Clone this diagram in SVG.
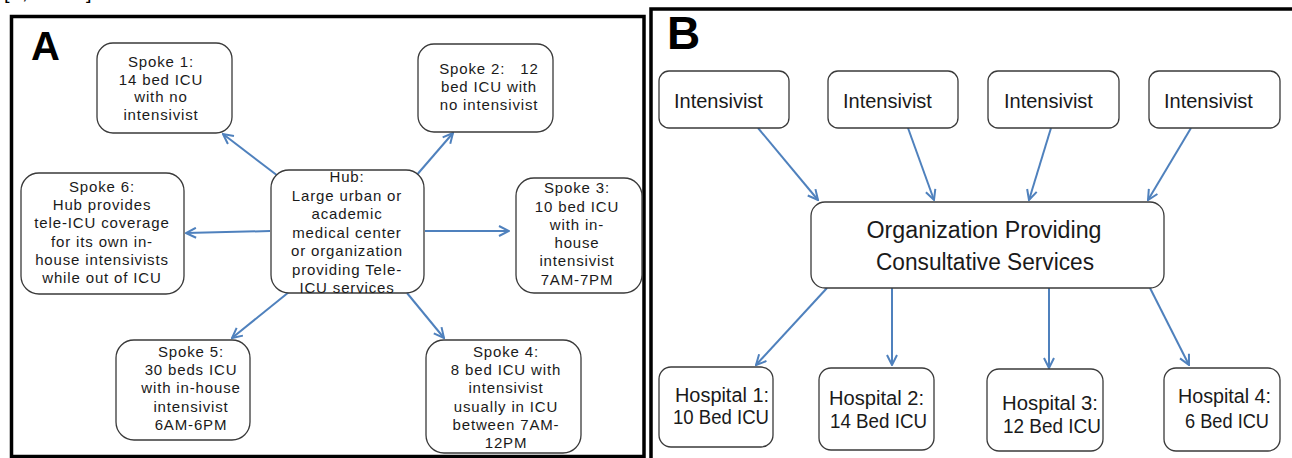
<svg xmlns="http://www.w3.org/2000/svg" width="1292" height="458" viewBox="0 0 1292 458">
<style>
.bx{fill:#fff;stroke:#3a3a3a;stroke-width:1.3}
.ta{font-family:"Liberation Sans",Arial,sans-serif;font-size:15px;letter-spacing:0.85px;fill:#1a1a1a;text-anchor:middle}
.tb{font-family:"Liberation Sans",Arial,sans-serif;font-size:20px;fill:#1a1a1a}
.th{font-family:"Liberation Sans",Arial,sans-serif;font-size:19.5px;fill:#1a1a1a}
.tc{font-family:"Liberation Sans",Arial,sans-serif;font-size:23.5px;fill:#1a1a1a;text-anchor:middle}
.lbl{font-family:"Liberation Sans",Arial,sans-serif;font-weight:bold;fill:#000}
.cn{fill:none;stroke:#4F81BD;stroke-width:2;marker-end:url(#ah)}
.frame{fill:none;stroke:#000;stroke-width:3.5}
</style>
<defs>
<marker id="ah" viewBox="0 0 12 12" refX="11" refY="6" markerWidth="12" markerHeight="12" orient="auto" markerUnits="userSpaceOnUse">
<path d="M1,1 L11,6 L1,11" fill="none" stroke="#4F81BD" stroke-width="2"/>
</marker>
</defs>
<rect width="1292" height="458" fill="#fff"/>
<g id="cite" font-family="Liberation Sans, Arial, sans-serif" font-size="20" fill="#000">
<text x="4" y="-1">[</text><text x="22" y="-1">,</text><text x="86" y="-1">]</text>
</g>
<g id="panelA-frame"><rect class="frame" x="11.5" y="16.5" width="632.5" height="440"/></g>
<g id="panelB-frame"><path class="frame" d="M651,458 V9 H1292"/></g>
<text class="lbl" x="31" y="60" font-size="40">A</text>
<text class="lbl" x="667" y="49" font-size="46">B</text>

<g id="connectors">
<line class="cn" x1="278" y1="176" x2="223" y2="134"/>
<line class="cn" x1="415" y1="177" x2="453" y2="133"/>
<line class="cn" x1="270" y1="231" x2="186" y2="233"/>
<line class="cn" x1="425" y1="231" x2="509" y2="231"/>
<line class="cn" x1="289" y1="292" x2="232" y2="338"/>
<line class="cn" x1="407" y1="293" x2="444" y2="338"/>
<line class="cn" x1="758" y1="128" x2="818" y2="200"/>
<line class="cn" x1="908" y1="128" x2="934" y2="200"/>
<line class="cn" x1="1051" y1="128" x2="1029" y2="200"/>
<line class="cn" x1="1191" y1="128" x2="1148" y2="200"/>
<line class="cn" x1="827" y1="288" x2="756" y2="365"/>
<line class="cn" x1="892" y1="288" x2="892" y2="365"/>
<line class="cn" x1="1049" y1="288" x2="1049" y2="368"/>
<line class="cn" x1="1150" y1="288" x2="1189" y2="365"/>
</g>

<g id="spoke1">
<rect class="bx" x="97" y="43" width="135" height="90" rx="16"/>
<text class="ta" x="161" y="67">Spoke 1:</text>
<text class="ta" x="161" y="85">14 bed ICU</text>
<text class="ta" x="161" y="102">with no</text>
<text class="ta" x="161" y="120">intensivist</text>
</g>
<g id="spoke2">
<rect class="bx" x="418" y="44" width="135" height="88" rx="16"/>
<text class="ta" x="489" y="74" xml:space="preserve">Spoke 2:   12</text>
<text class="ta" x="489" y="92">bed ICU with</text>
<text class="ta" x="489" y="110">no intensivist</text>
</g>
<g id="hub">
<rect class="bx" x="271" y="170" width="153" height="123" rx="18"/>
<text class="ta" x="347" y="182">Hub:</text>
<text class="ta" x="347" y="201">Large urban or</text>
<text class="ta" x="347" y="219">academic</text>
<text class="ta" x="347" y="238">medical center</text>
<text class="ta" x="347" y="256">or organization</text>
<text class="ta" x="347" y="275">providing Tele-</text>
<text class="ta" x="347" y="293">ICU services</text>
</g>
<g id="spoke3">
<rect class="bx" x="516" y="178" width="126" height="115" rx="18"/>
<text class="ta" x="577" y="193">Spoke 3:</text>
<text class="ta" x="577" y="212">10 bed ICU</text>
<text class="ta" x="577" y="230">with in-</text>
<text class="ta" x="577" y="248">house</text>
<text class="ta" x="577" y="266">intensivist</text>
<text class="ta" x="577" y="285">7AM-7PM</text>
</g>
<g id="spoke6">
<rect class="bx" x="21" y="173" width="163" height="121" rx="18"/>
<text class="ta" x="102" y="192">Spoke 6:</text>
<text class="ta" x="102" y="210">Hub provides</text>
<text class="ta" x="102" y="228">tele-ICU coverage</text>
<text class="ta" x="102" y="247">for its own in-</text>
<text class="ta" x="102" y="265">house intensivists</text>
<text class="ta" x="102" y="283">while out of ICU</text>
</g>
<g id="spoke5">
<rect class="bx" x="116" y="340" width="134" height="100" rx="18"/>
<text class="ta" x="191" y="357">Spoke 5:</text>
<text class="ta" x="191" y="375">30 beds ICU</text>
<text class="ta" x="191" y="393">with in-house</text>
<text class="ta" x="191" y="412">intensivist</text>
<text class="ta" x="191" y="430">6AM-6PM</text>
</g>
<g id="spoke4">
<rect class="bx" x="426" y="340" width="155" height="113" rx="18"/>
<text class="ta" x="506" y="357">Spoke 4:</text>
<text class="ta" x="506" y="375">8 bed ICU with</text>
<text class="ta" x="506" y="393">intensivist</text>
<text class="ta" x="506" y="412">usually in ICU</text>
<text class="ta" x="506" y="430">between 7AM-</text>
<text class="ta" x="506" y="448">12PM</text>
</g>

<g id="intensivist1"><rect class="bx" x="659" y="71" width="130" height="57" rx="10"/><text class="tb" x="674" y="108">Intensivist</text></g>
<g id="intensivist2"><rect class="bx" x="828" y="71" width="130" height="57" rx="10"/><text class="tb" x="843" y="108">Intensivist</text></g>
<g id="intensivist3"><rect class="bx" x="988" y="71" width="131" height="57" rx="10"/><text class="tb" x="1004" y="108">Intensivist</text></g>
<g id="intensivist4"><rect class="bx" x="1149" y="71" width="131" height="57" rx="10"/><text class="tb" x="1164" y="108">Intensivist</text></g>

<g id="organization">
<rect class="bx" x="811" y="202" width="353" height="86" rx="14"/>
<text class="tc" x="984" y="238" textLength="235" lengthAdjust="spacingAndGlyphs">Organization Providing</text>
<text class="tc" x="985" y="270" textLength="218" lengthAdjust="spacingAndGlyphs">Consultative Services</text>
</g>

<g id="hospital1"><rect class="bx" x="659" y="367" width="114" height="80" rx="12"/>
<text class="th" x="675" y="402" textLength="94" lengthAdjust="spacingAndGlyphs">Hospital 1:</text><text class="th" x="673" y="424" textLength="96" lengthAdjust="spacingAndGlyphs">10 Bed ICU</text></g>
<g id="hospital2"><rect class="bx" x="819" y="368" width="115" height="82" rx="12"/>
<text class="th" x="829" y="405" textLength="95" lengthAdjust="spacingAndGlyphs">Hospital 2:</text><text class="th" x="830" y="428" textLength="97" lengthAdjust="spacingAndGlyphs">14 Bed ICU</text></g>
<g id="hospital3"><rect class="bx" x="987" y="369" width="116" height="82" rx="12"/>
<text class="th" x="1002" y="410" textLength="96" lengthAdjust="spacingAndGlyphs">Hospital 3:</text><text class="th" x="1003" y="433" textLength="98" lengthAdjust="spacingAndGlyphs">12 Bed ICU</text></g>
<g id="hospital4"><rect class="bx" x="1164" y="368" width="116" height="83" rx="12"/>
<text class="th" x="1178" y="403" textLength="93" lengthAdjust="spacingAndGlyphs">Hospital 4:</text><text class="th" x="1185" y="428" textLength="84" lengthAdjust="spacingAndGlyphs">6 Bed ICU</text></g>
</svg>
